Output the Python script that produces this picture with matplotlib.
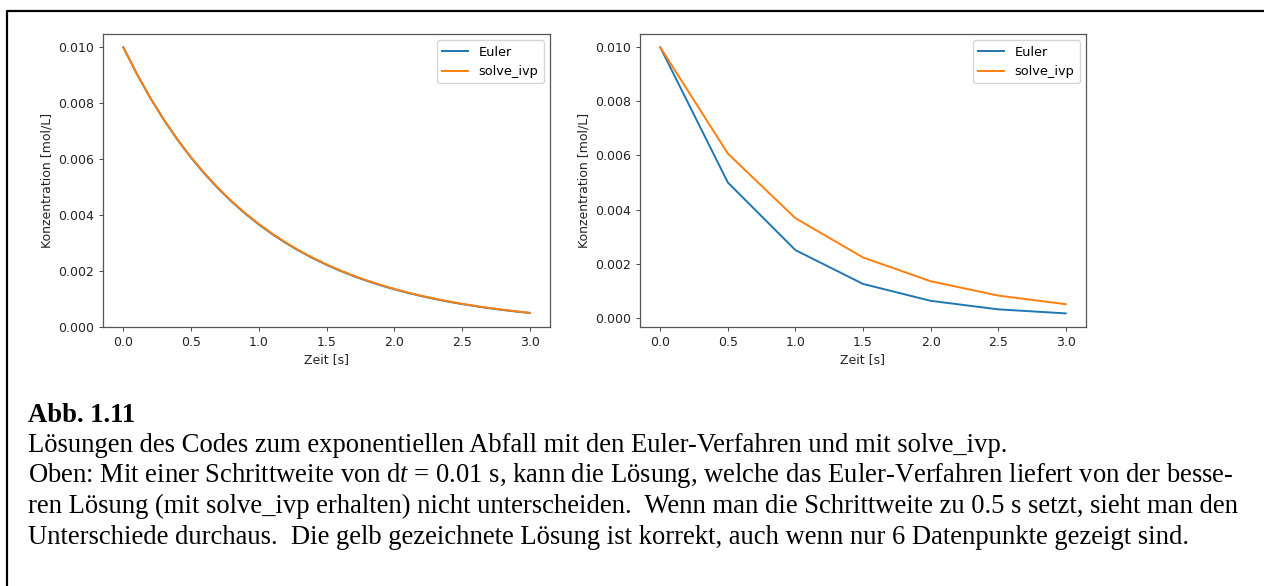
import matplotlib
matplotlib.use("Agg")
import matplotlib.pyplot as plt
from matplotlib.lines import Line2D

# Werte links: Schrittweite 0.01 s (alle 0.1 s)
t_fein = [0.0, 0.1, 0.2, 0.3, 0.4, 0.5, 0.6, 0.7, 0.8, 0.9, 1.0,
          1.1, 1.2, 1.3, 1.4, 1.5, 1.6, 1.7, 1.8, 1.9, 2.0,
          2.1, 2.2, 2.3, 2.4, 2.5, 2.6, 2.7, 2.8, 2.9, 3.0]
euler_fein = [0.01000, 0.009044, 0.008179, 0.007397, 0.006690, 0.006050, 0.005472,
              0.004948, 0.004475, 0.004047, 0.003660, 0.003310, 0.002994, 0.002708,
              0.002449, 0.002215, 0.002003, 0.001811, 0.001638, 0.001481, 0.001340,
              0.001212, 0.001096, 0.000991, 0.000896, 0.000811, 0.000733, 0.000663,
              0.000600, 0.000542, 0.000490]
ivp_fein = [0.01000, 0.009048, 0.008187, 0.007408, 0.006703, 0.006065, 0.005488,
            0.004966, 0.004493, 0.004066, 0.003679, 0.003329, 0.003012, 0.002725,
            0.002466, 0.002231, 0.002019, 0.001827, 0.001653, 0.001496, 0.001353,
            0.001225, 0.001108, 0.001003, 0.000907, 0.000821, 0.000743, 0.000672,
            0.000608, 0.000550, 0.000498]

# Werte rechts: Schrittweite 0.5 s
t_grob = [0.0, 0.5, 1.0, 1.5, 2.0, 2.5, 3.0]
euler_grob = [0.0100, 0.0050, 0.0025, 0.00125, 0.000625, 0.00031, 0.00016]
ivp_grob = [0.0100, 0.00607, 0.00368, 0.00223, 0.00135, 0.00082, 0.00050]

beschriftung = [
    "Lösungen des Codes zum exponentiellen Abfall mit den Euler-Verfahren und mit solve_ivp.",
    "Oben: Mit einer Schrittweite von d$t$ = 0.01 s, kann die Lösung, welche das Euler-Verfahren liefert von der besse-",
    "ren Lösung (mit solve_ivp erhalten) nicht unterscheiden.  Wenn man die Schrittweite zu 0.5 s setzt, sieht man den",
    "Unterschiede durchaus.  Die gelb gezeichnete Lösung ist korrekt, auch wenn nur 6 Datenpunkte gezeigt sind.",
]

plt.rcParams["mathtext.fontset"] = "custom"
plt.rcParams["mathtext.rm"] = "Liberation Serif"
plt.rcParams["mathtext.it"] = "Liberation Serif:italic"

W, H = 1264, 586
fig = plt.figure(figsize=(W / 100, H / 100), dpi=100)

def zeichne(ax, t1, y1, t2, y2):
    ax.plot(t1, y1, color="#1f77b4", lw=1.4, label="Euler")
    ax.plot(t2, y2, color="#ff7f0e", lw=1.4, label="solve_ivp")
    ax.set_xlabel("Zeit [s]", fontsize=9, color="#222222", labelpad=3)
    ax.set_ylabel("Konzentration [mol/L]", fontsize=9, color="#222222", labelpad=3)
    ax.set_xticks([0.0, 0.5, 1.0, 1.5, 2.0, 2.5, 3.0])
    ax.set_yticks([0.0, 0.002, 0.004, 0.006, 0.008, 0.010])
    ax.yaxis.set_major_formatter(matplotlib.ticker.FormatStrFormatter("%.3f"))
    ax.xaxis.set_major_formatter(matplotlib.ticker.FormatStrFormatter("%.1f"))
    ax.tick_params(labelsize=9, length=3.2, width=0.7, colors="#444444", labelcolor="#222222")
    for s in ax.spines.values():
        s.set_color("#555555")
        s.set_linewidth(0.9)
    ax.legend(loc="upper right", fontsize=9.3)

ax1 = fig.add_axes([103 / W, 1 - 326.7 / H, 447 / W, 292.7 / H])
zeichne(ax1, t_fein, euler_fein, t_fein, ivp_fein)
ax1.set_ylim(bottom=0)

ax2 = fig.add_axes([640 / W, 1 - 326.7 / H, 446 / W, 292.7 / H])
zeichne(ax2, t_grob, euler_grob, t_grob, ivp_grob)

# Rahmen (links und oben)
fig.add_artist(Line2D([7 / W, 7 / W, 1.0], [0.0, 1 - 11 / H, 1 - 11 / H],
                      transform=fig.transFigure, color="black", lw=1.6))

# Bildunterschrift
fig.text(28 / W, 1 - 422 / H, "Abb. 1.11", family="Liberation Serif",
         fontweight="bold", fontsize=19.2, va="baseline")
for i, zeile in enumerate(beschriftung):
    fig.text(28 / W, 1 - (452 + 30.5 * i) / H, zeile, family="Liberation Serif",
             fontsize=19.2, va="baseline")

fig.savefig("out.png", dpi=100)
